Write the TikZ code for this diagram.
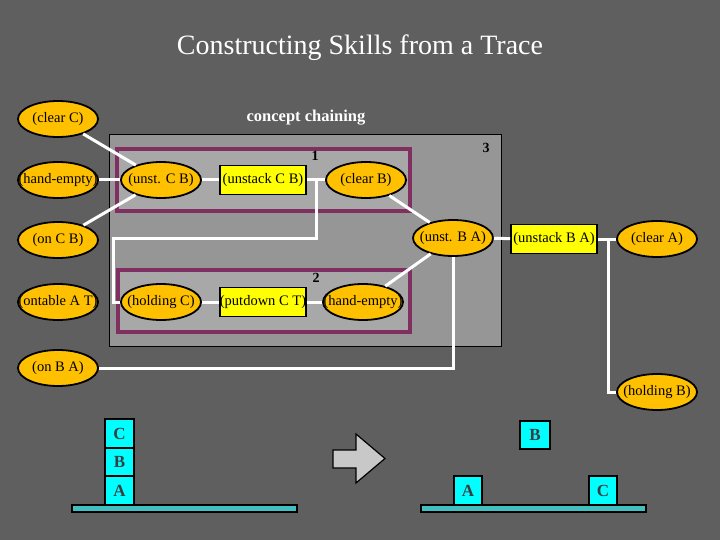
\documentclass[tikz,border=0pt]{standalone}
\usepackage{fontspec}
\setmainfont{Liberation Serif}
\usetikzlibrary{shapes.geometric}
%
\definecolor{bggray}{RGB}{95,95,95}
\definecolor{outergray}{RGB}{150,150,150}
\definecolor{innergray}{RGB}{168,168,168}
\definecolor{skillpurple}{RGB}{128,48,96}
\definecolor{litorange}{RGB}{255,192,0}
\definecolor{oplabel}{RGB}{255,255,0}
\definecolor{blockcyan}{RGB}{0,255,255}
\definecolor{tablecyan}{RGB}{64,192,192}
\definecolor{arrowgray}{RGB}{200,200,200}
%
\tikzset{
  lit/.style={ellipse,draw=black,line width=1.8pt,fill=litorange,
    minimum width=80pt,minimum height=36pt,inner sep=0pt,
    font=\fontsize{14.5}{16}\selectfont},
  oper/.style={rectangle,draw=black,line width=1.8pt,fill=oplabel,
    minimum width=86pt,minimum height=29pt,inner sep=0pt,
    font=\fontsize{14.5}{16}\selectfont},
  link/.style={white,line width=3pt},
  skillbox/.style={draw=skillpurple,line width=4pt,fill=innergray},
  blk/.style={draw=black,line width=1.2pt,fill=blockcyan},
  blklabel/.style={font=\bfseries\fontsize{17}{19}\selectfont,text=black!85!cyan},
  tbl/.style={draw=black,line width=1.2pt,fill=tablecyan},
  boxnum/.style={font=\bfseries\fontsize{14}{16}\selectfont}
}
\newcommand{\lit}[3]{\node[lit] (#1) at (#2) {\makebox[0pt]{#3}};}
\newcommand{\oper}[3]{\node[oper] (#1) at (#2) {\makebox[0pt]{#3}};}
%
\begin{document}
\begin{tikzpicture}[x=1pt,y=-1pt]
%
\def\bw{29};
\def\lw{3pt};
%
\fill[bggray] (0,0) rectangle (720,540);
\useasboundingbox (0,0) rectangle (720,540);
%
\node[text=white,font=\fontsize{28}{32}\selectfont] (title) at (360,48) {Constructing Skills from a Trace};
\node[text=white,font=\bfseries\fontsize{16.5}{19}\selectfont] (chain) at (306,118) {concept chaining};
%
% skill boxes
\draw[fill=outergray,draw=black,line width=1pt] (109,135) rectangle (501,346);
\node[boxnum] (n3) at (486,148) {3};
\draw[skillbox] (117,149) rectangle (410,211);
\node[boxnum] (n1) at (315,156) {1};
\draw[skillbox] (118,270) rectangle (410,332);
\node[boxnum] (n2) at (316,278) {2};
%
% literals and operators
\lit{clearC}{58,119}{(clear C)}
\lit{handA}{58,180}{(hand-empty)}
\lit{unstCB}{161,180}{(unst. C B)}
\oper{unstackCB}{263,180}{(unstack C B)}
\lit{clearB}{366,180}{(clear B)}
\lit{onCB}{58,240}{(on C B)}
\lit{unstBA}{453,238}{(unst. B A)}
\oper{unstackBA}{554,239}{(unstack B A)}
\lit{clearA}{657,239}{(clear A)}
\lit{ontableAT}{58,302}{(ontable A  T)}
\lit{holdingC}{161,302}{(holding C)}
\oper{putdownCT}{263,302}{(putdown C  T)}
\lit{handB}{363,302}{(hand-empty)}
\lit{onBA}{58,368}{(on B  A)}
\lit{holdingB}{657,392}{(holding B)}
%
\coordinate (jCB) at (316,180);
\coordinate (jCBdown) at (316,238);
\coordinate (jCBleft) at (113,238);
\coordinate (jBA) at (608,239);
%
% connectors
\draw[link] (clearC)--(unstCB);
\draw[link] (onCB)--(unstCB);
\draw[link] (handA)--(unstCB);
\draw[link] (unstCB)--(unstackCB);
\draw[link] (unstackCB)--(clearB);
\draw[link] (jCB)--(jCBdown)--(jCBleft)|-(holdingC.west);
\draw[link] (holdingC)--(putdownCT);
\draw[link] (putdownCT)--(handB);
\draw[link] (clearB)--(unstBA);
\draw[link] (handB)--(unstBA);
\draw[link] (unstBA)--(unstackBA);
\draw[link] (unstackBA)--(clearA);
\draw[link] (jBA)|-(holdingB.west);
\draw[link] (unstBA.south)|-(onBA.east);
%
% initial state
\draw[tbl] (72,505) rectangle (297,512);
\draw[blk] (105,476) rectangle +(\bw,\bw);
\node[blklabel] (blA) at (119.5,490.5) {A};
\draw[blk] (105,448) rectangle +(\bw,28);
\node[blklabel] (blB) at (119.5,462) {B};
\draw[blk] (105,419) rectangle +(\bw,29);
\node[blklabel] (blC) at (119.5,433.5) {C};
%
% arrow
\draw[fill=arrowgray,draw=black,line width=1.2pt]
  (333,450)--(356,450)--(356,434)--(385,458.5)--(356,483)--(356,468)--(333,468)--cycle;
%
% final state
\draw[tbl] (421,505) rectangle (646,512);
\draw[blk] (454,476) rectangle +(28,\bw);
\node[blklabel] (brA) at (468,490.5) {A};
\draw[blk] (589,476) rectangle +(28,\bw);
\node[blklabel] (brC) at (603,490.5) {C};
\draw[blk] (520,421) rectangle +(30,28);
\node[blklabel] (brB) at (535,435) {B};
%
\end{tikzpicture}
\end{document}
